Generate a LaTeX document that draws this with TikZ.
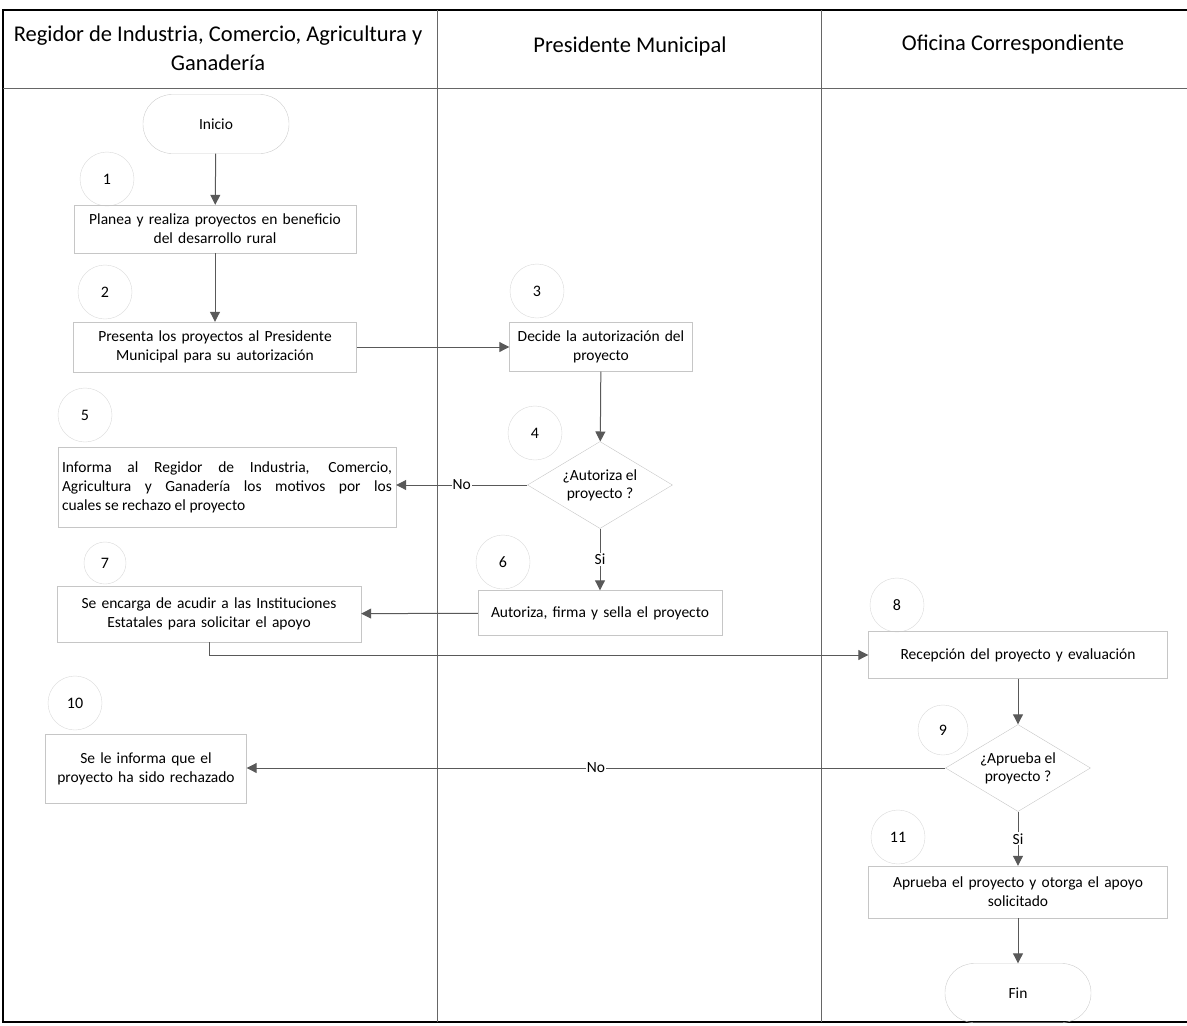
\documentclass[tikz,border=0pt]{standalone}
\usepackage{fontspec}
\setmainfont{Carlito}
\usetikzlibrary{shapes.geometric,arrows.meta}
\tikzset{lane/.style={draw=black!60, line width=0.8pt},
    frame/.style={draw=black, line width=2pt},
    process/.style={draw=gray!45, rectangle, align=center, inner sep=2pt,
        text=black, font=\fontsize{15.5}{19}\selectfont},
    decision/.style={draw=gray!45, diamond, aspect=1.67, inner sep=0pt,
        minimum width=145pt, minimum height=87pt, align=center,
        text=black, font=\fontsize{15.5}{18}\selectfont},
    terminal/.style={draw=gray!40, rectangle, rounded corners=29pt,
        minimum width=146pt, minimum height=59pt,
        text=black, font=\fontsize{15.5}{18}\selectfont},
    stepnum/.style={draw=gray!30, circle, minimum size=54pt, inner sep=0pt,
        text=black, font=\fontsize{16}{18}\selectfont},
    flow/.style={draw=black!65, line width=1pt,
        -{Triangle[width=10pt,length=10pt]}},
    answer/.style={fill=white, inner sep=1pt, text=black,
        font=\fontsize{15.5}{18}\selectfont},
    header/.style={align=center, text=black, font=\fontsize{22.5}{29}\selectfont}}

\begin{document}
\begin{tikzpicture}[x=1pt, y=-1pt]
    \useasboundingbox (0,0) rectangle (1187,1026);
    % lanes
    \draw[frame] (1187,10) -- (3,10) -- (3,1022) -- (1187,1022);
    \draw[lane] (3,88) -- (1187,88);
    \draw[lane] (437,10) -- (437,1022);
    \draw[lane] (821,10) -- (821,1022);
    \node[header] (h1) at (218,48)
        {Regidor de Industria, Comercio, Agricultura y\\Ganadería};
    \node[header] (h2) at (630,46) {Presidente Municipal};
    \node[header] (h3) at (1013,44) {Oficina Correspondiente};

    % step numbers
    \node[stepnum] (n1) at (107,179) {1};
    \node[stepnum] (n2) at (105,292) {2};
    \node[stepnum] (n3) at (537,291) {3};
    \node[stepnum] (n4) at (535,433) {4};
    \node[stepnum] (n5) at (85,415) {5};
    \node[stepnum] (n6) at (503,562) {6};
    \node[stepnum, minimum size=42pt] (n7) at (105,563) {7};
    \node[stepnum] (n8) at (897,605) {8};
    \node[stepnum, minimum size=50pt] (n9) at (943,730) {9};
    \node[stepnum] (n10) at (75,703) {10};
    \node[stepnum] (n11) at (898,837) {11};

    % shapes
    \node[terminal] (inicio) at (216,124) {Inicio};
    \node[process, minimum width=282pt, minimum height=48pt, text width=276pt] (planea) at (215,229)
        {Planea y realiza proyectos en beneficio\\del desarrollo rural};
    \node[process, minimum width=283pt, minimum height=50pt, text width=276pt] (presenta) at (215,347)
        {Presenta los proyectos al Presidente\\Municipal para su autorización};
    \node[process, minimum width=183pt, minimum height=49pt, text width=177pt] (decide) at (601,347)
        {Decide la autorización del\\proyecto};
    \node[decision] (autoriza) at (600,485) {¿Autoriza el\\proyecto ?};
    \node[process, minimum width=338pt, minimum height=80pt, text width=330pt, align=justify] (informa) at (227,487)
        {Informa al Regidor de Industria, Comercio,\linebreak Agricultura y Ganadería los motivos por los\linebreak cuales se rechazo el proyecto};
    \node[process, minimum width=244pt, minimum height=45pt, text width=238pt] (firma) at (600,613)
        {Autoriza, firma y sella el proyecto};
    \node[process, minimum width=304pt, minimum height=56pt, text width=298pt] (acude) at (209,614)
        {Se encarga de acudir a las Instituciones\\Estatales para solicitar el apoyo};
    \node[process, minimum width=299pt, minimum height=47pt, text width=293pt] (recibe) at (1018,655)
        {Recepción del proyecto y evaluación};
    \node[decision] (aprueba) at (1018,768) {¿Aprueba el\\proyecto ?};
    \node[process, minimum width=201pt, minimum height=69pt, text width=195pt] (rechazo) at (146,769)
        {Se le informa que el\\proyecto ha sido rechazado};
    \node[process, minimum width=299pt, minimum height=52pt, text width=293pt] (otorga) at (1018,892)
        {Aprueba el proyecto y otorga el apoyo\\solicitado};
    \node[terminal] (fin) at (1018,993) {Fin};

    % connectors
    \draw[flow] (inicio) -- (planea);
    \draw[flow] (planea) -- (presenta);
    \draw[flow] (presenta) -- (decide);
    \draw[flow] (decide) -- (autoriza);
    \draw[flow] (autoriza.west) -- node[answer] {No} (autoriza.west -| informa.east);
    \draw[flow] (autoriza) -- node[answer] {Si} (firma);
    \draw[flow] (firma) -- (acude);
    \draw[flow] (acude.south) |- (recibe.west);
    \draw[flow] (recibe) -- (aprueba);
    \draw[flow] (aprueba.west) -- node[answer] {No} (aprueba.west -| rechazo.east);
    \draw[flow] (aprueba) -- node[answer] {Si} (otorga);
    \draw[flow] (otorga) -- (fin);
\end{tikzpicture}
\end{document}
